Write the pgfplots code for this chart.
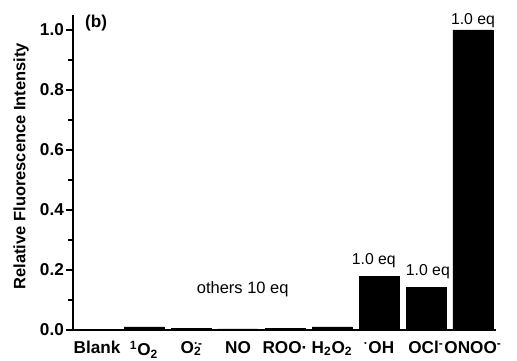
\documentclass[border=0pt]{standalone}
\usepackage{pgfplots}
\pgfplotsset{compat=1.18}
\usepackage{fontspec}
\setmainfont{Liberation Sans}
\begin{document}
\begin{tikzpicture}[x=1pt,y=1pt]
\begin{axis}[
  name=ax,
  scale only axis,
  width=308pt, height=229.4pt,
  xmin=-0.51, xmax=8.49,
  ymin=0, ymax=1.05,
  axis x line*=bottom, axis y line*=left,
  axis line style={line width=1.6pt},
  xtick=data,
  xticklabels={Blank,\textsuperscript{1}O\textsubscript{2},O\rlap{\textsuperscript{·-}}\textsubscript{2},NO,ROO·,H\textsubscript{2}O\textsubscript{2},\textsuperscript{·}OH,OCl\textsuperscript{-},ONOO\textsuperscript{-}},
  x tick label style={font=\bfseries\fontsize{12.5}{14}\selectfont, inner xsep=0pt, inner ysep=3pt},
  major x tick style={draw=none},
  ytick={0,0.2,0.4,0.6,0.8,1.0},
  minor ytick={0.1,0.3,0.5,0.7,0.9},
  yticklabel style={/pgf/number format/fixed,/pgf/number format/fixed zerofill,/pgf/number format/precision=1,font=\bfseries\fontsize{12.5}{14}\selectfont, inner xsep=1.5pt},
  /pgf/number format/assume math mode=true,
  tick style={line width=1.3pt, black},
  major tick length=5pt, minor tick length=3.5pt,
  tick align=outside,
  ylabel={\bfseries Relative Fluorescence Intensity},
  ylabel style={font=\fontsize{12}{14}\selectfont, at={(axis description cs:-0.123,0.52)}, anchor=center},
  clip=false,
]
\addplot[ybar, bar width=0.85, fill=black, draw=black] coordinates {
 (0,0.003) (1,0.010) (2,0.005) (3,0.004) (4,0.006) (5,0.010) (6,0.178) (7,0.141) (8,1.0)};
\node[font=\fontsize{11.5}{14}\selectfont, anchor=south, inner sep=0pt] at (axis cs:5.89,0.205) {1.0 eq};
\node[font=\fontsize{11.5}{14}\selectfont, anchor=south, inner sep=0pt] at (axis cs:7.04,0.17) {1.0 eq};
\node[font=\fontsize{11.5}{14}\selectfont, anchor=south, inner sep=0pt] at (axis cs:8.0,1.005) {1.0 eq};
\node[font=\fontsize{12}{14}\selectfont] at (axis cs:3.1,0.137) {others 10 eq};
\node[font=\bfseries\fontsize{12.5}{14}\selectfont, anchor=north west, inner sep=0pt] at (axis cs:-0.26,1.05) {(b)};
\end{axis}
\path (ax.south west) +(-53.2pt,-22.5pt) coordinate (bl);
\path (ax.north east) +(15.3pt,10.9pt) coordinate (tr);
\pgfresetboundingbox
\useasboundingbox (bl) rectangle (tr);
\end{tikzpicture}
\end{document}
